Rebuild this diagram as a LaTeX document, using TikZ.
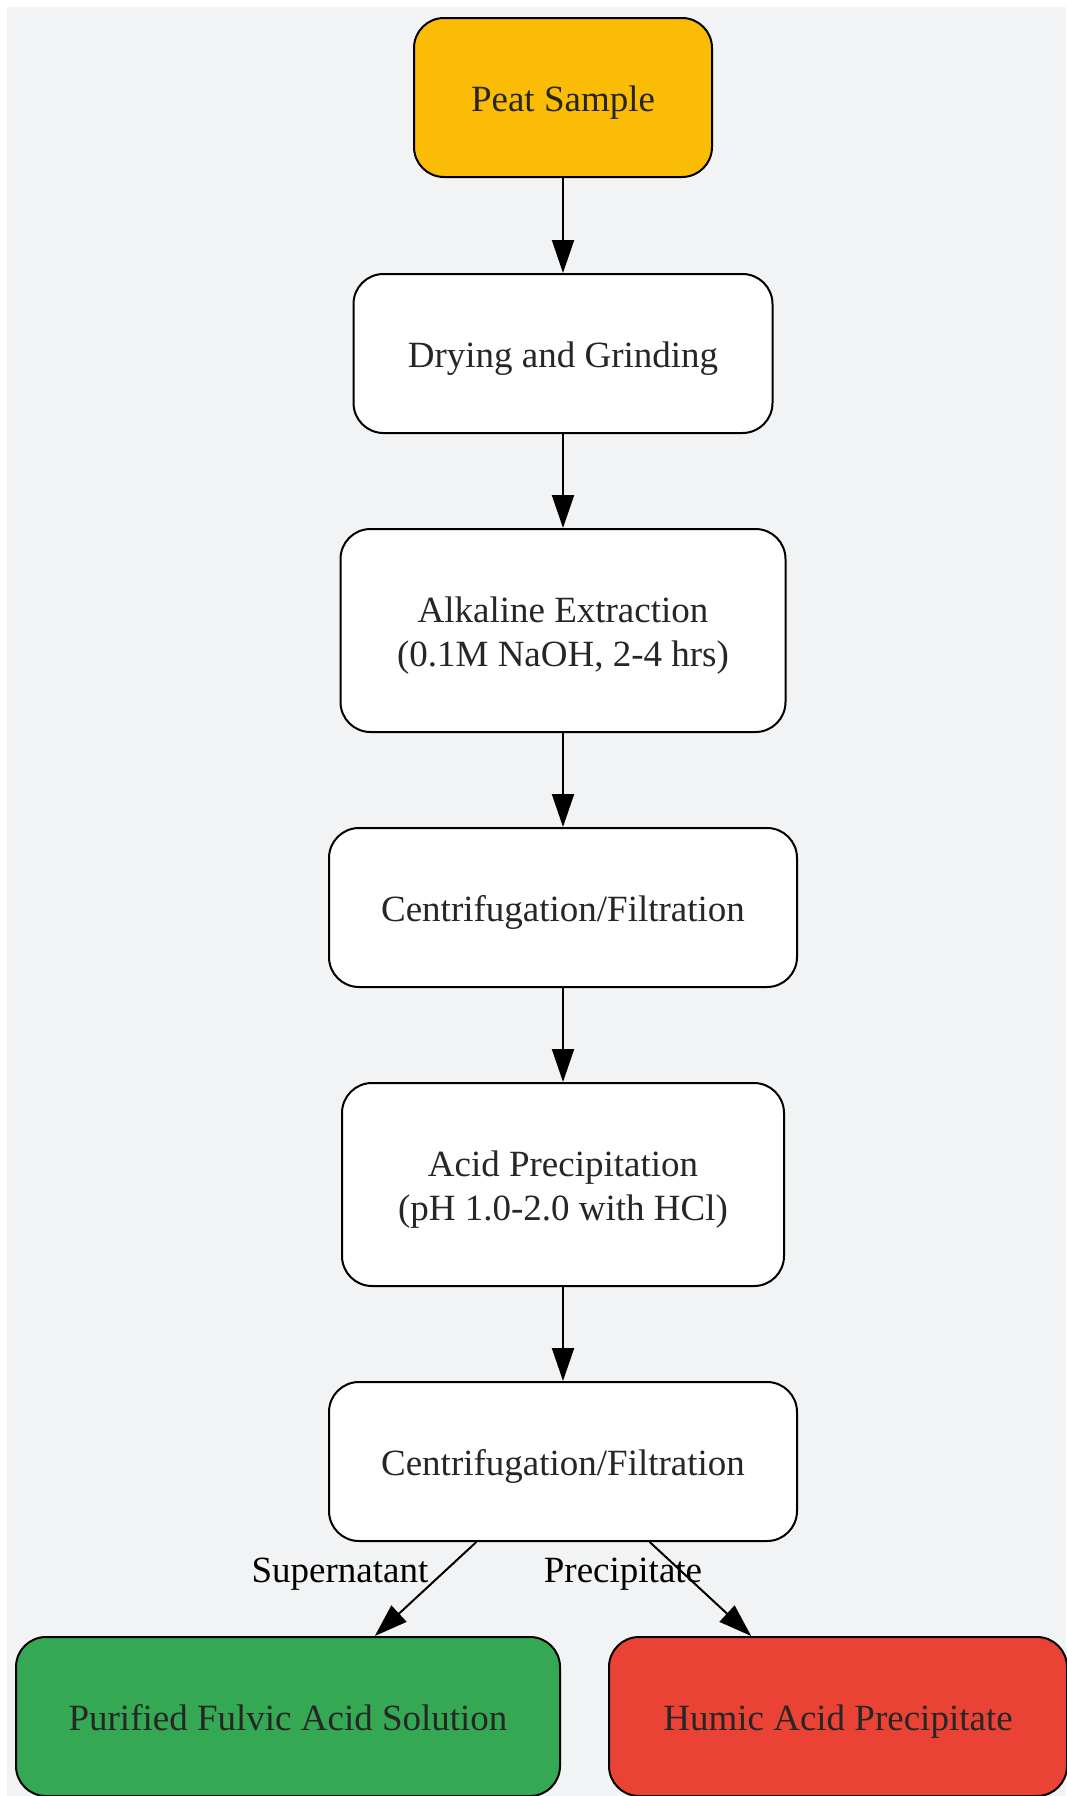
\documentclass[tikz,border=0pt]{standalone}
\usepackage{fontspec}
\setmainfont{Liberation Serif}
\usetikzlibrary{arrows.meta}
\definecolor{bgc}{HTML}{F1F3F4}
\definecolor{peat}{HTML}{FBBC05}
\definecolor{fulv}{HTML}{34A853}
\definecolor{humi}{HTML}{EA4335}
\definecolor{txt}{HTML}{262626}
\tikzset{
  box/.style={draw=black, line width=2pt, rounded corners=30pt, fill=white,
    text=txt, align=center, inner sep=0pt, text height=30pt, text depth=2pt,
    font=\fontsize{37}{44.5}\selectfont},
  twoline/.style={text height=74.5pt},
  conn/.style={draw=black, line width=2pt, -{Triangle[length=33pt,width=22pt]}},
  lbl/.style={text=black, inner sep=0pt, anchor=base, font=\fontsize{37}{44.5}\selectfont}
}
\begin{document}
\begin{tikzpicture}[x=1pt,y=-1pt]
\useasboundingbox (0,0) rectangle (1066,1796);
\fill[bgc] (7,7) rectangle (1066,1796);
\node[box, fill=peat, minimum width=298pt, minimum height=159pt] (peat) at (563,97.5) {Peat Sample};
\node[box, minimum width=419pt, minimum height=159pt] (dry) at (563,353.5) {Drying and Grinding};
\node[box, twoline, minimum width=445pt, minimum height=203pt] (alk) at (563,630.5) {Alkaline Extraction\\(0.1M NaOH, 2-4 hrs)};
\node[box, minimum width=468pt, minimum height=159pt] (cf1) at (563,907.5) {Centrifugation/Filtration};
\node[box, twoline, minimum width=442pt, minimum height=203pt] (acid) at (563,1184.5) {Acid Precipitation\\(pH 1.0-2.0 with HCl)};
\node[box, minimum width=468pt, minimum height=159pt] (cf2) at (563,1461.5) {Centrifugation/Filtration};
\node[box, fill=fulv, minimum width=544pt, minimum height=159pt] (fulvic) at (288,1716.5) {Purified Fulvic Acid Solution};
\node[box, fill=humi, minimum width=458pt, minimum height=159pt] (humic) at (838,1716.5) {Humic Acid Precipitate};
\draw[conn] (peat) -- (dry);
\draw[conn] (dry) -- (alk);
\draw[conn] (alk) -- (cf1);
\draw[conn] (cf1) -- (acid);
\draw[conn] (acid) -- (cf2);
\draw[conn] (cf2) -- (fulvic);
\draw[conn] (cf2) -- (humic);
\node[lbl] (lsup) at (340,1582) {Supernatant};
\node[lbl] (lpre) at (623,1582) {Precipitate};
\end{tikzpicture}
\end{document}
